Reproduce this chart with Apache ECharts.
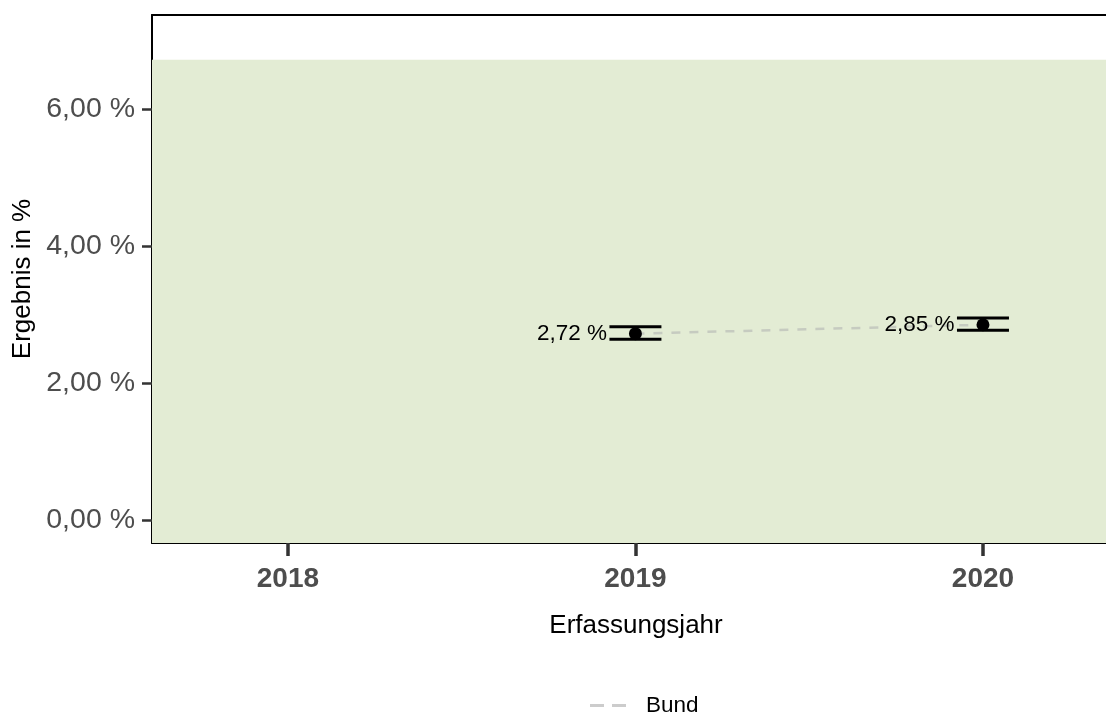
<!DOCTYPE html>
<html><head><meta charset="utf-8">
<script src="https://cdn.jsdelivr.net/npm/echarts@6/dist/echarts.min.js"></script>
<style>html,body{margin:0;padding:0;background:#fff}#c{width:1106px;height:717px}</style>
</head><body><div id="c"></div>
<script>
const years = [2019, 2020];
const values = [2.72, 2.85];
const lower = [2.64, 2.77];
const upper = [2.82, 2.95];
const bund = [2.72, 2.85];
const xTicks = [2018, 2019, 2020];
const yTicks = [0, 2, 4, 6];
const bandTop = 6.72;
const xMin = 2017.609, xMax = 2020.354;
const yMin = -0.336, yMax = 7.372;
const fmt = v => v.toFixed(2).replace('.', ',') + ' %';
const FONT = 'Liberation Sans';

const chart = echarts.init(document.getElementById('c'));
chart.setOption({
  animation: false,
  textStyle: {fontFamily: FONT},
  grid: {left: 152, right: 0, top: 15, bottom: 174, containLabel: false},
  legend: {
    bottom: 0, left: 590, padding: 0, itemWidth: 36, itemHeight: 3, itemGap: 10,
    textStyle: {fontSize: 22.5, color: '#000', fontFamily: FONT, padding: [0, 0, 0, 15]},
    data: [{name: 'Bund', icon: 'path://M0,0H14V3H0Z M22,0H36V3H22Z', itemStyle: {color: '#cccccc'}}]
  },
  xAxis: [{
    type: 'value', min: xMin, max: xMax,
    name: 'Erfassungsjahr', nameLocation: 'middle', nameGap: 70,
    nameTextStyle: {fontSize: 26, color: '#000', fontFamily: FONT, padding: [0, 0, 0, 14]},
    axisLine: {show: true, onZero: false, lineStyle: {color: '#000', width: 2}},
    axisTick: {show: true, customValues: xTicks, length: 13, lineStyle: {color: '#333', width: 3.5}},
    axisLabel: {customValues: xTicks, fontSize: 28, fontWeight: 'bold', color: '#4d4d4d', margin: 22, formatter: v => String(v), fontFamily: FONT},
    splitLine: {show: false}
  }, {
    type: 'value', min: xMin, max: xMax, position: 'top',
    axisLine: {show: true, onZero: false, lineStyle: {color: '#000', width: 2}},
    axisTick: {show: false}, axisLabel: {show: false}, splitLine: {show: false}
  }],
  yAxis: {
    type: 'value', min: yMin, max: yMax,
    name: 'Ergebnis in %', nameLocation: 'middle', nameGap: 113,
    nameTextStyle: {fontSize: 26, color: '#000', fontFamily: FONT},
    axisLine: {show: true, onZero: false, lineStyle: {color: '#000', width: 2}},
    axisTick: {show: true, customValues: yTicks, length: 10, lineStyle: {color: '#333', width: 2.5}},
    axisLabel: {customValues: yTicks, fontSize: 28.5, color: '#4d4d4d', margin: 17, formatter: fmt, fontFamily: FONT},
    splitLine: {show: false}
  },
  series: [
    {
      type: 'line', name: 'band', data: [], silent: true,
      markArea: {
        silent: true,
        itemStyle: {color: '#e3ecd4'},
        data: [[{coord: [xMin, yMin]}, {coord: [xMax, bandTop]}]]
      }
    },
    {
      type: 'line', name: 'Bund', data: years.map((y, i) => [y, bund[i]]),
      symbol: 'none', z: 3,
      lineStyle: {color: '#c6cbc0', width: 2.5, type: [9, 9]},
      itemStyle: {color: '#cccccc'}
    },
    {
      type: 'custom', name: 'ci', z: 4,
      data: years.map((y, i) => [y, lower[i], upper[i]]),
      renderItem: function (params, api) {
        const x = api.value(0);
        const lo = api.coord([x, api.value(1)]);
        const hi = api.coord([x, api.value(2)]);
        const hw = 26;
        return {type: 'group', children: [
          {type: 'line', shape: {x1: hi[0] - hw, y1: hi[1], x2: hi[0] + hw, y2: hi[1]}, style: {stroke: '#000', lineWidth: 3}},
          {type: 'line', shape: {x1: lo[0] - hw, y1: lo[1], x2: lo[0] + hw, y2: lo[1]}, style: {stroke: '#000', lineWidth: 3}}
        ]};
      }
    },
    {
      type: 'scatter', name: 'Ergebnis', z: 5,
      data: years.map((y, i) => [y, values[i]]),
      symbolSize: 13, itemStyle: {color: '#000', opacity: 1},
      label: {show: true, position: 'left', distance: 22, fontSize: 22.5, color: '#000', fontFamily: FONT,
        formatter: p => fmt(p.value[1])}
    }
  ]
});
</script></body></html>
